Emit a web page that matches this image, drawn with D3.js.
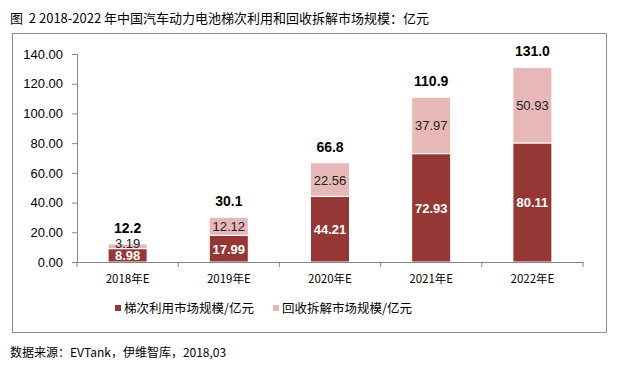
<!DOCTYPE html>
<html><head><meta charset="utf-8">
<script src="https://cdn.jsdelivr.net/npm/d3@7"></script>
<style>body{margin:0;background:#fff;font-family:"Noto Sans CJK SC","Noto Sans",sans-serif;}</style>
</head><body><svg id="c" width="620" height="365"></svg>
<script>
const categories = ["2018年E","2019年E","2020年E","2021年E","2022年E"];
const cascadeUse = [8.98,17.99,44.21,72.93,80.11];
const recycling = [3.19,12.12,22.56,37.97,50.93];
const totals = ["12.2","30.1","66.8","110.9","131.0"];
const yTicks = [0,20,40,60,80,100,120,140];
const seriesNames = ["梯次利用市场规模/亿元","回收拆解市场规模/亿元"];
const colors = ["#953735","#E6B9B8"];

const svg = d3.select("#c");
const font = '"Noto Sans CJK SC","Noto Sans",sans-serif';
const numFont = '"Liberation Sans","Noto Sans",sans-serif';

svg.append("text").attr("x",10).attr("y",23).attr("font-family",font).attr("font-size",13).attr("fill","#000")
  .style("white-space","pre").text("图  2 2018-2022 年中国汽车动力电池梯次利用和回收拆解市场规模：亿元");

svg.append("rect").attr("x",12.5).attr("y",33.5).attr("width",594).attr("height",299)
  .attr("fill","none").attr("stroke","#8c8c8c").attr("stroke-width",1);

const x = d3.scaleBand().domain(categories).range([77,583]).paddingInner(0).paddingOuter(0);
const y = d3.scaleLinear().domain([0,140]).range([262,54]);

const data = categories.map((c,i)=>({cat:c,a:cascadeUse[i],b:recycling[i],t:totals[i]}));
const stack = d3.stack().keys(["a","b"])(data);

const bw = 39;
const g = svg.append("g");
stack.forEach((layer,li)=>{
  g.selectAll(null).data(layer).enter().append("rect")
    .attr("x",d=>x(d.data.cat)+x.bandwidth()/2-bw/2)
    .attr("y",d=>y(d[1]))
    .attr("width",bw)
    .attr("height",d=>y(d[0])-y(d[1]))
    .attr("fill",colors[li])
    .attr("stroke","#fff").attr("stroke-width",1);
});

// y axis
const yAxis = d3.axisLeft(y).tickValues(yTicks).tickFormat(d3.format(".2f")).tickSize(5).tickPadding(9);
const ya = svg.append("g").attr("transform","translate(77,0)").call(yAxis);
ya.select(".domain").attr("stroke","#868686");
ya.selectAll(".tick line").attr("stroke","#868686");
ya.selectAll("text").attr("font-family",numFont).attr("font-size",13).attr("fill","#000");

// x axis
const xAxis = d3.axisBottom(x).tickSize(0).tickPadding(13);
const xa = svg.append("g").attr("transform","translate(0,262)").call(xAxis);
xa.select(".domain").attr("stroke","#868686");
xa.selectAll("text").attr("font-family",font).attr("font-size",11.5).attr("fill","#000");
svg.append("g").selectAll("line").data(d3.range(categories.length+1)).enter().append("line")
  .attr("x1",i=>77+i*x.bandwidth()).attr("x2",i=>77+i*x.bandwidth())
  .attr("y1",262).attr("y2",267).attr("stroke","#868686");

// segment labels
g.selectAll(null).data(stack[0]).enter().append("text")
  .attr("x",d=>x(d.data.cat)+x.bandwidth()/2)
  .attr("y",d=>Math.min((y(d[0])+y(d[1]))/2+5, y(d[0])-1))
  .attr("text-anchor","middle").attr("font-family",numFont).attr("font-size",13).attr("font-weight","bold").attr("fill","#fff")
  .text(d=>d.data.a.toFixed(2));
g.selectAll(null).data(stack[1]).enter().append("text")
  .attr("x",d=>x(d.data.cat)+x.bandwidth()/2)
  .attr("y",d=>Math.min((y(d[0])+y(d[1]))/2+5, y(d[0])-1))
  .attr("text-anchor","middle").attr("font-family",numFont).attr("font-size",13).attr("fill","#222")
  .text(d=>d.data.b.toFixed(2));
g.selectAll(null).data(stack[1]).enter().append("text")
  .attr("x",d=>x(d.data.cat)+x.bandwidth()/2)
  .attr("y",d=>y(d[1])-11)
  .attr("text-anchor","middle").attr("font-family",numFont).attr("font-size",14).attr("font-weight","bold").attr("fill","#000")
  .text(d=>d.data.t);

// legend
const lg = svg.append("g");
const lx = [115,273];
seriesNames.forEach((n,i)=>{
  lg.append("rect").attr("x",lx[i]).attr("y",305).attr("width",6).attr("height",6).attr("fill",colors[i]);
  lg.append("text").attr("x",lx[i]+9).attr("y",313).attr("font-family",font).attr("font-size",12.5).attr("fill","#000").text(n);
});

svg.append("text").attr("x",10).attr("y",357).attr("font-family",font).attr("font-size",12).attr("fill","#000")
  .text("数据来源：EVTank，伊维智库，2018,03");
</script></body></html>
